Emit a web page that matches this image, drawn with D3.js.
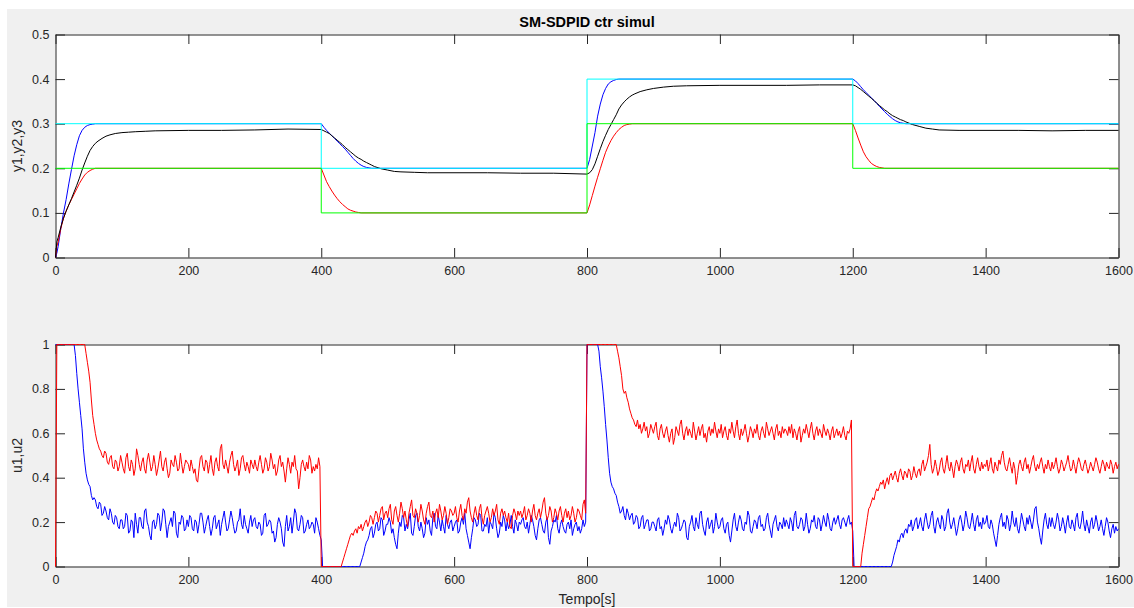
<!DOCTYPE html>
<html><head><meta charset="utf-8">
<script src="https://cdn.jsdelivr.net/npm/d3@7"></script>
<style>
html,body{margin:0;padding:0;background:#fff;}
svg{display:block;}
</style></head><body>
<svg id="chart" width="1134" height="608"></svg>
<script>
// ---------------- data ----------------
const chartTitle = "SM-SDPID ctr simul";
const xLabel = "Tempo[s]";
const yLabelTop = "y1,y2,y3";
const yLabelBottom = "u1,u2";
const xTicks = [0,200,400,600,800,1000,1200,1400,1600];
const yTicksTop = [0,0.1,0.2,0.3,0.4,0.5];
const yTicksBottom = [0,0.2,0.4,0.6,0.8,1];

// set-points (step after)
const stepTimes = [0,400,800,1200,1600];
const r1 = [0.3,0.2,0.4,0.3,0.3];
const r2 = [0.2,0.1,0.3,0.2,0.2];

// outputs [time, value]
const y1 = [[0,0],[2,.01],[4,.025],[8,.065],[12,.1],[16,.13],[20,.165],[24,.197],[28,.228],[32,.253],[36,.273],[40,.285],[44,.292],[48,.296],[52,.298],[56,.299],[60,.3],[400,.3],
[404,.292],[408,.285],[412,.279],[416,.273],[420,.267],[424,.261],[428,.255],[432,.249],[436,.243],[440,.236],[444,.229],[448,.222],[452,.216],[456,.211],[460,.207],[464,.204],[468,.202],[472,.201],[476,.2],[800,.2],
[804,.22],[808,.25],[812,.28],[816,.317],[820,.344],[824,.365],[828,.379],[832,.389],[836,.394],[840,.397],[844,.399],[848,.4],[1200,.4],
[1204,.396],[1208,.39],[1212,.383],[1216,.376],[1220,.37],[1224,.364],[1228,.358],[1232,.352],[1236,.346],[1240,.339],[1244,.333],[1248,.327],[1252,.321],[1256,.316],[1260,.311],[1264,.307],[1268,.304],[1272,.302],[1276,.301],[1280,.3],[1600,.3]];

const y2 = [[0,0],[2,.025],[4,.035],[8,.065],[12,.088],[16,.104],[20,.118],[24,.13],[28,.142],[32,.154],[36,.166],[40,.176],[44,.185],[48,.191],[52,.195],[56,.198],[60,.2],[400,.2],
[404,.185],[408,.17],[412,.159],[416,.149],[420,.14],[424,.132],[428,.125],[432,.119],[436,.114],[440,.109],[444,.106],[448,.104],[452,.102],[456,.101],[460,.1],[800,.1],
[804,.118],[808,.139],[812,.16],[816,.18],[820,.199],[824,.218],[828,.236],[832,.25],[836,.262],[840,.272],[844,.28],[848,.287],[852,.292],[856,.296],[860,.298],[864,.299],[868,.3],[1200,.3],
[1204,.285],[1208,.268],[1212,.252],[1216,.237],[1220,.226],[1224,.218],[1228,.211],[1232,.207],[1236,.204],[1240,.202],[1244,.201],[1248,.2],[1600,.2]];

const y3 = [[0,0],[2,.035],[4,.045],[8,.068],[12,.088],[16,.104],[20,.118],[24,.132],[28,.147],[32,.162],[36,.178],[40,.196],[44,.212],[48,.227],[52,.24],[56,.249],[60,.256],[64,.261],[70,.267],[76,.272],[82,.275],[90,.278],[100,.28],[110,.281],[120,.282],[135,.283],[150,.284],[200,.285],[250,.285],[300,.286],[350,.288],[400,.287],
[404,.284],[408,.281],[412,.278],[416,.273],[420,.268],[424,.263],[428,.258],[432,.253],[436,.247],[440,.242],[444,.237],[448,.232],[452,.227],[456,.223],[460,.22],[464,.216],[468,.213],[472,.21],[476,.207],[480,.204],[490,.199],[500,.196],[510,.193],[520,.192],[540,.191],[560,.19],[650,.19],[700,.189],[750,.189],[800,.187],
[804,.19],[808,.197],[812,.21],[816,.227],[820,.244],[824,.26],[828,.274],[832,.287],[836,.298],[840,.309],[844,.32],[848,.333],[852,.342],[856,.349],[860,.355],[864,.36],[868,.364],[872,.367],[880,.372],[890,.376],[900,.379],[915,.382],[930,.384],[950,.385],[1000,.386],[1100,.386],[1150,.387],[1200,.387],
[1204,.385],[1208,.381],[1212,.377],[1216,.372],[1220,.367],[1224,.362],[1228,.357],[1232,.352],[1236,.346],[1240,.341],[1244,.336],[1248,.331],[1252,.327],[1256,.322],[1260,.318],[1264,.315],[1268,.312],[1272,.309],[1276,.307],[1280,.304],[1290,.298],[1300,.294],[1310,.29],[1320,.288],[1330,.286],[1360,.285],[1450,.285],[1500,.284],[1550,.285],[1600,.285]];

// control signals, sampled every 2 s from 0 to 1600
const uStep = 2;
const u1 = [
1,1,1,1,1,1,1,1,1,1,1,1,1,1,1,.95,.87,.80,.74,.68,.62,.53,.47,.42,.39,.37,.36,.32,.30,.31,.30,.27,.26,.29,.28,.23,.24,.27,.25,.22,.21,.26,.24,.20,.19,.23,.22,.18,.17,.21,
.21,.17,.18,.24,.23,.15,.16,.21,.20,.13,.24,.19,.15,.22,.22,.18,.17,.25,.26,.20,.18,.14,.12,.20,.21,.17,.19,.24,.23,.16,.20,.26,.25,.19,.13,.18,.20,.22,.18,.25,.24,.15,.13,.20,.19,.23,.22,.16,.17,.21,
.18,.23,.22,.17,.16,.21,.20,.15,.19,.24,.24,.20,.15,.18,.21,.23,.18,.14,.17,.22,.23,.17,.19,.21,.14,.19,.22,.25,.20,.16,.17,.21,.25,.22,.18,.15,.16,.20,.21,.26,.19,.17,.23,.19,.17,.15,.20,.23,.18,.21,
.22,.18,.17,.20,.19,.14,.15,.23,.24,.18,.19,.21,.20,.15,.16,.11,.13,.19,.22,.20,.17,.11,.09,.18,.23,.16,.18,.22,.15,.20,.26,.24,.17,.16,.19,.23,.22,.15,.16,.19,.21,.17,.18,.20,.19,.15,.22,.20,.17,.14,
.12,0,0,0,0,0,0,0,0,0,0,0,0,0,0,0,0,0,0,0,0,0,0,0,0,0,0,0,0,0,.02,.04,.06,.09,.11,.12,.14,.17,.18,.13,.15,.19,.20,.16,.17,.22,.21,.14,.16,.19,
.19,.22,.20,.15,.17,.13,.10,.08,.15,.20,.18,.23,.22,.16,.19,.17,.21,.24,.15,.14,.18,.23,.24,.18,.16,.20,.17,.13,.15,.22,.19,.21,.16,.14,.22,.24,.18,.17,.23,.20,.16,.21,.18,.15,.23,.19,.17,.20,.21,.16,
.18,.20,.21,.15,.16,.20,.22,.19,.24,.17,.14,.11,.08,.13,.17,.22,.21,.18,.19,.24,.23,.16,.16,.19,.18,.22,.15,.20,.19,.17,.24,.22,.17,.13,.15,.20,.18,.23,.21,.16,.20,.17,.19,.23,.18,.15,.21,.19,.16,.20,
.19,.21,.22,.18,.17,.20,.15,.19,.23,.21,.18,.14,.12,.17,.21,.22,.19,.16,.15,.20,.22,.13,.10,.16,.18,.21,.20,.23,.17,.15,.19,.21,.18,.16,.15,.19,.20,.17,.21,.14,.17,.19,.20,.16,.18,.15,.17,.21,.18,.20,
1,1,1,1,1,1,1,1,1,.97,.90,.85,.79,.72,.64,.57,.49,.42,.38,.36,.35,.33,.32,.29,.27,.24,.25,.27,.23,.21,.26,.24,.21,.23,.24,.19,.20,.23,.22,.17,.18,.22,.23,.17,.19,.21,.21,.16,.17,.20,
.20,.18,.16,.21,.22,.17,.18,.14,.17,.21,.19,.23,.21,.17,.15,.18,.20,.18,.24,.22,.16,.17,.19,.21,.20,.13,.12,.18,.20,.23,.18,.16,.22,.19,.17,.24,.25,.19,.16,.14,.20,.22,.17,.19,.21,.15,.18,.24,.20,.17,
.18,.21,.22,.17,.15,.19,.20,.14,.11,.16,.21,.24,.18,.16,.20,.23,.21,.17,.16,.20,.19,.25,.23,.16,.15,.18,.21,.20,.17,.22,.23,.18,.19,.16,.17,.22,.24,.19,.16,.13,.19,.21,.23,.18,.16,.20,.19,.17,.22,.18,
.21,.19,.17,.22,.20,.16,.23,.25,.18,.17,.19,.22,.21,.16,.18,.24,.19,.15,.17,.21,.20,.23,.18,.17,.22,.21,.16,.19,.23,.20,.18,.24,.21,.17,.16,.20,.22,.19,.21,.23,.19,.17,.21,.22,.20,.18,.21,.23,.19,.20,
.16,0,0,0,0,0,0,0,0,0,0,0,0,0,0,0,0,0,0,0,0,0,0,0,0,0,0,0,0,0,.02,.05,.07,.09,.12,.11,.14,.15,.13,.16,.17,.15,.19,.18,.21,.16,.18,.21,.22,.17,
.19,.22,.18,.16,.21,.24,.20,.17,.19,.23,.25,.18,.15,.20,.22,.19,.17,.23,.21,.16,.18,.24,.26,.20,.17,.19,.22,.18,.14,.17,.21,.23,.20,.16,.19,.25,.22,.18,.17,.20,.24,.19,.16,.21,.23,.18,.20,.17,.22,.19,
.20,.23,.18,.17,.21,.19,.15,.12,.09,.14,.19,.22,.24,.18,.20,.17,.23,.21,.16,.19,.25,.20,.18,.22,.17,.15,.19,.24,.21,.18,.16,.22,.19,.23,.20,.17,.21,.26,.27,.20,.17,.13,.10,.16,.21,.24,.19,.17,.22,.18,
.22,.19,.17,.20,.24,.21,.16,.18,.22,.19,.15,.20,.23,.18,.17,.21,.19,.16,.22,.24,.18,.17,.20,.25,.19,.16,.21,.18,.15,.20,.22,.17,.19,.23,.20,.16,.18,.21,.17,.14,.18,.22,.20,.16,.13,.17,.19,.15,.18,.16,
.17];

const u2 = [
0,1,1,1,1,1,1,1,1,1,1,1,1,1,1,1,1,1,1,1,1,1,1,.96,.92,.88,.83,.75,.68,.64,.60,.57,.55,.53,.52,.50,.49,.52,.51,.47,.46,.49,.50,.45,.44,.48,.47,.43,.45,.50,
.47,.44,.42,.49,.51,.45,.43,.48,.46,.41,.44,.53,.50,.46,.43,.47,.49,.44,.42,.48,.51,.47,.43,.45,.50,.46,.41,.44,.48,.52,.45,.43,.47,.49,.44,.40,.42,.48,.46,.45,.50,.47,.43,.44,.51,.46,.42,.45,.48,.47,
.46,.43,.48,.45,.42,.44,.39,.38,.44,.49,.50,.45,.43,.48,.47,.42,.46,.50,.44,.41,.47,.49,.45,.43,.53,.55,.46,.44,.48,.45,.42,.47,.50,.52,.46,.43,.45,.48,.41,.44,.49,.50,.46,.43,.47,.45,.42,.48,.46,.44,
.48,.45,.43,.47,.50,.46,.42,.44,.49,.47,.43,.45,.51,.48,.44,.46,.41,.43,.48,.50,.45,.47,.43,.38,.44,.49,.46,.42,.47,.45,.50,.44,.43,.35,.40,.46,.48,.45,.43,.47,.44,.50,.48,.42,.45,.43,.46,.44,.49,.45,
0,0,0,0,0,0,0,0,0,0,0,0,0,0,0,0,.02,.04,.06,.08,.10,.12,.14,.15,.14,.16,.17,.15,.18,.17,.19,.16,.18,.20,.21,.18,.20,.23,.22,.19,.22,.25,.24,.20,.23,.26,.27,.21,.24,.25,
.22,.26,.28,.21,.19,.25,.27,.23,.20,.24,.29,.26,.22,.25,.21,.18,.24,.27,.30,.23,.22,.26,.24,.20,.23,.28,.25,.21,.19,.24,.27,.29,.23,.22,.25,.20,.24,.26,.22,.28,.25,.21,.23,.27,.24,.19,.22,.26,.25,.23,
.24,.27,.22,.20,.25,.28,.23,.21,.26,.24,.29,.31,.25,.22,.20,.24,.27,.23,.21,.26,.28,.22,.19,.23,.25,.27,.24,.20,.22,.26,.23,.25,.28,.21,.19,.24,.26,.23,.25,.22,.20,.24,.18,.17,.23,.26,.24,.21,.25,.23,
.25,.22,.24,.27,.21,.23,.26,.24,.20,.25,.28,.23,.21,.24,.26,.22,.25,.29,.31,.24,.21,.23,.27,.25,.20,.22,.26,.24,.21,.25,.27,.23,.20,.24,.26,.22,.25,.21,.23,.27,.24,.20,.22,.26,.25,.23,.21,.28,.30,.24,
1,1,1,1,1,1,1,1,1,1,1,1,1,1,1,1,1,1,1,1,1,1,1,.97,.94,.90,.86,.80,.78,.79,.76,.74,.71,.69,.67,.66,.64,.63,.66,.62,.64,.60,.62,.65,.61,.63,.58,.60,.64,.62,
.60,.63,.65,.59,.57,.62,.64,.60,.58,.61,.63,.59,.56,.60,.62,.55,.58,.63,.61,.59,.64,.66,.60,.57,.61,.63,.59,.62,.60,.58,.65,.61,.57,.60,.63,.59,.62,.64,.58,.60,.56,.61,.63,.59,.62,.60,.65,.61,.58,.62,
.60,.64,.58,.61,.63,.59,.57,.62,.60,.65,.61,.58,.63,.66,.60,.57,.62,.59,.61,.64,.60,.56,.59,.63,.61,.58,.62,.60,.64,.59,.57,.61,.63,.60,.58,.65,.62,.59,.61,.63,.60,.57,.62,.64,.59,.61,.58,.63,.60,.62,
.61,.59,.63,.60,.64,.58,.62,.60,.57,.61,.63,.56,.59,.62,.60,.64,.61,.58,.62,.65,.60,.57,.61,.63,.59,.62,.60,.58,.64,.61,.59,.62,.60,.57,.61,.63,.58,.60,.62,.59,.61,.58,.60,.63,.59,.57,.61,.60,.62,.66,
0,0,0,0,0,0,0,.06,.10,.14,.18,.22,.26,.27,.29,.31,.30,.33,.35,.34,.36,.38,.37,.39,.35,.38,.40,.37,.41,.42,.39,.41,.43,.40,.38,.42,.44,.41,.39,.43,.42,.40,.44,.43,.39,.41,.45,.42,.40,.43,
.44,.41,.46,.48,.43,.45,.47,.50,.55,.46,.42,.44,.48,.45,.41,.43,.47,.49,.44,.42,.46,.50,.45,.43,.47,.44,.40,.45,.48,.46,.43,.47,.49,.44,.42,.46,.45,.48,.43,.47,.50,.44,.42,.46,.49,.45,.43,.47,.44,.46,
.45,.48,.43,.46,.49,.44,.42,.47,.45,.43,.48,.46,.50,.52,.47,.44,.43,.46,.49,.45,.42,.47,.44,.37,.41,.46,.48,.45,.43,.47,.49,.44,.46,.42,.45,.48,.50,.45,.43,.46,.44,.47,.49,.45,.42,.46,.44,.48,.45,.43,
.47,.44,.46,.49,.45,.42,.44,.48,.46,.43,.45,.47,.50,.46,.43,.44,.48,.45,.42,.46,.49,.47,.44,.43,.46,.48,.45,.42,.44,.47,.45,.43,.46,.49,.47,.44,.42,.45,.48,.46,.43,.47,.45,.44,.48,.46,.42,.45,.47,.44,
.46];

// ---------------- drawing ----------------
const FONT = '"Liberation Sans", Arial, Helvetica, sans-serif';
const AXC = "#262626";
const W = 1134, H = 608;
const svg = d3.select("#chart");

svg.append("rect").attr("x", 7).attr("y", 9).attr("width", W - 7).attr("height", H - 10).attr("fill", "#f0f0f0");

const L = 55.5, R = 1118.5;
const P1 = {top: 34.5, bot: 257.5};
const P2 = {top: 344.5, bot: 566.5};

const x = d3.scaleLinear().domain([0, 1600]).range([L, R]);
const yA = d3.scaleLinear().domain([0, 0.5]).range([P1.bot, P1.top]);
const yB = d3.scaleLinear().domain([0, 1]).range([P2.bot, P2.top]);

const fmtY = d => String(+(+d).toFixed(2));

function drawAxes(y, P, yTicks, id) {
  svg.append("rect").attr("x", L).attr("y", P.top).attr("width", R - L).attr("height", P.bot - P.top).attr("fill", "#fff");
  const tl = 9.5;
  const g = svg.append("g");
  g.append("g").attr("transform", `translate(0,${P.bot})`)
    .call(d3.axisBottom(x).tickValues(xTicks).tickFormat(d3.format("d")).tickSizeInner(-tl).tickSizeOuter(0).tickPadding(9));
  g.append("g").attr("transform", `translate(0,${P.top})`)
    .call(d3.axisTop(x).tickValues(xTicks).tickFormat("").tickSizeInner(-tl).tickSizeOuter(0));
  g.append("g").attr("transform", `translate(${L},0)`)
    .call(d3.axisLeft(y).tickValues(yTicks).tickFormat(fmtY).tickSizeInner(-tl).tickSizeOuter(0).tickPadding(6));
  g.append("g").attr("transform", `translate(${R},0)`)
    .call(d3.axisRight(y).tickValues(yTicks).tickFormat("").tickSizeInner(-tl).tickSizeOuter(0));
  g.selectAll("g").attr("font-family", FONT).attr("font-size", 12.5);
  g.selectAll(".domain, .tick line").attr("stroke", AXC).attr("stroke-width", 1);
  g.selectAll(".tick text").attr("fill", AXC);
  svg.append("clipPath").attr("id", id).append("rect")
    .attr("x", L - 1).attr("y", P.top - 1).attr("width", R - L + 2).attr("height", P.bot - P.top + 2);
}

drawAxes(yA, P1, yTicksTop, "clipA");
drawAxes(yB, P2, yTicksBottom, "clipB");

// top panel lines
const lineA = d3.line().x(d => x(d[0])).y(d => yA(d[1]));
const gA = svg.append("g").attr("clip-path", "url(#clipA)").attr("fill", "none").attr("stroke-width", 1);
[[y1, "#0000ff"], [y2, "#ff0000"], [y3, "#000000"]].forEach(([data, c]) => {
  gA.append("path").datum(data).attr("d", lineA).attr("stroke", c);
});
const stepLine = d3.line().curve(d3.curveStepAfter).x((d, i) => x(stepTimes[i])).y(d => yA(d));
gA.append("path").datum(r1).attr("d", stepLine).attr("stroke", "#00ffff");
gA.append("path").datum(r2).attr("d", stepLine).attr("stroke", "#00ff00");

// bottom panel lines
const lineB = d3.line().x((d, i) => x(i * uStep)).y(d => yB(d));
const gB = svg.append("g").attr("clip-path", "url(#clipB)").attr("fill", "none").attr("stroke-width", 1);
gB.append("path").datum(u1).attr("d", lineB).attr("stroke", "#0000ff");
gB.append("path").datum(u2).attr("d", lineB).attr("stroke", "#ff0000");

// texts
svg.append("text").attr("x", (L + R) / 2).attr("y", 27).attr("text-anchor", "middle")
  .attr("font-family", FONT).attr("font-size", 14.5).attr("font-weight", "bold").attr("fill", "#000").text(chartTitle);
svg.append("text").attr("transform", `translate(22,${(P1.top + P1.bot) / 2}) rotate(-90)`).attr("text-anchor", "middle")
  .attr("font-family", FONT).attr("font-size", 14).attr("fill", AXC).text(yLabelTop);
svg.append("text").attr("transform", `translate(22,${(P2.top + P2.bot) / 2}) rotate(-90)`).attr("text-anchor", "middle")
  .attr("font-family", FONT).attr("font-size", 14).attr("fill", AXC).text(yLabelBottom);
svg.append("text").attr("x", (L + R) / 2).attr("y", 604).attr("text-anchor", "middle")
  .attr("font-family", FONT).attr("font-size", 14).attr("fill", AXC).text(xLabel);
</script>
</body></html>
